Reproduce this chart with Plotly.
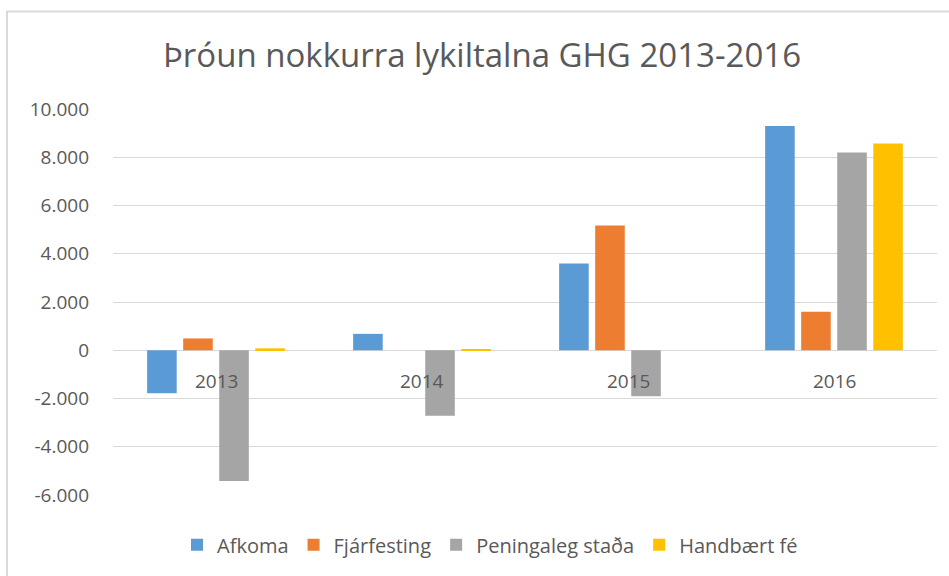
import plotly.graph_objects as go

categories = ["2013", "2014", "2015", "2016"]
afkoma = [-1780, 680, 3600, 9300]
fjarfesting = [490, 0, 5170, 1600]
peningaleg = [-5420, -2720, -1910, 8200]
handbaert = [80, 20, 0, 8570]
series_names = ["Afkoma", "Fjárfesting", "Peningaleg staða", "Handbært fé"]
colors = ["#5B9BD5", "#ED7D31", "#A5A5A5", "#FFC000"]
tick_vals = [-6000, -4000, -2000, 0, 2000, 4000, 6000, 8000, 10000]
tick_text = ["-6.000", "-4.000", "-2.000", "0", "2.000", "4.000", "6.000", "8.000", "10.000"]
title = "Þróun nokkurra lykiltalna GHG 2013-2016"

FONT = "Open Sans"
GRAY = "#595959"

fig = go.Figure()
for name, vals, col in zip(series_names, [afkoma, fjarfesting, peningaleg, handbaert], colors):
    fig.add_trace(go.Bar(x=categories, y=vals, name=name, marker=dict(color=col, line=dict(width=0))))

W, H = 949, 576
ml, mr, mt, mb = 113, 12, 109, 79
pw = W - ml - mr
ph = H - mt - mb

def px_x(p):
    return (p - ml) / pw

def px_y(p):
    return (H - mb - p) / ph

fig.update_layout(
    width=W, height=H,
    margin=dict(l=ml, r=mr, t=mt, b=mb),
    paper_bgcolor="white", plot_bgcolor="white",
    barmode="group", bargap=0.3, bargroupgap=0.18,
    title=dict(text=title, x=482 / W, xanchor="center", y=1 - 55 / H, yanchor="middle",
               font=dict(family=FONT, size=33, color=GRAY)),
    font=dict(family=FONT, color=GRAY),
    showlegend=True,
    legend=dict(orientation="h", x=px_x(490), xanchor="center", y=px_y(547), yanchor="middle",
                font=dict(family=FONT, size=20, color=GRAY),
                traceorder="normal"),
    xaxis=dict(type="category", range=[-0.5, len(categories) - 0.5], showticklabels=False,
               showgrid=False, zeroline=False, showline=False, ticks=""),
    yaxis=dict(range=[-6000, 10000], tickvals=tick_vals, ticktext=tick_text,
               showgrid=True, gridcolor="#D9D9D9", gridwidth=1.3, zeroline=True,
               zerolinecolor="#D9D9D9", zerolinewidth=1.3, showline=False,
               tickfont=dict(family=FONT, size=19, color=GRAY), ticklabelstandoff=23),
    hovermode=False,
)

for i, c in enumerate(categories):
    fig.add_annotation(x=i, y=0, xref="x", yref="y", text=c, showarrow=False,
                       yshift=-31, font=dict(family=FONT, size=19, color=GRAY))

fig.add_shape(type="rect", xref="paper", yref="paper",
              x0=px_x(7), x1=px_x(980), y0=px_y(600), y1=px_y(11),
              line=dict(color="#D9D9D9", width=2), fillcolor="rgba(0,0,0,0)", layer="below")

fig.write_html("out.html", config={"displayModeBar": False},
               post_script="document.body.style.margin='0';document.body.style.overflow='hidden';")
